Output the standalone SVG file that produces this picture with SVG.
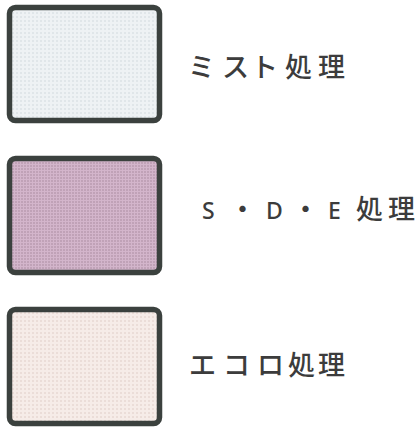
<svg xmlns="http://www.w3.org/2000/svg" width="419" height="427" viewBox="0 0 419 427">
<style>
.box{stroke:#3b413e;stroke-width:5.5}
.lbl{font-family:"Noto Sans CJK JP","Noto Sans",sans-serif;font-size:27px;font-weight:500;fill:#3c3c3c}
.lat{font-family:"Noto Sans","Liberation Sans",sans-serif;font-size:23px;font-weight:500;fill:#3c3c3c}
</style>
<defs>
<pattern id="dotsA" width="4" height="4" patternUnits="userSpaceOnUse">
<rect width="4" height="4" fill="#eef2f4"/>
<circle cx="1" cy="1" r="0.7" fill="#c9d2d6"/>
</pattern>
<pattern id="dotsB" width="3" height="3" patternUnits="userSpaceOnUse">
<rect width="3" height="3" fill="#d3b5cb"/>
<circle cx="1" cy="1" r="0.8" fill="#a9899f"/>
</pattern>
<pattern id="dotsC" width="4" height="4" patternUnits="userSpaceOnUse">
<rect width="4" height="4" fill="#f6ece8"/>
<circle cx="1" cy="1" r="0.7" fill="#d9c3bd"/>
</pattern>
</defs>
<rect width="419" height="427" fill="#ffffff"/>
<g id="mist">
<rect class="box" x="9.5" y="7.5" width="150" height="113" rx="6" fill="url(#dotsA)"/>
<text class="lbl" x="188 222 251 285 318" y="77">ミスト処理</text>
</g>
<g id="sde">
<rect class="box" x="9.5" y="158.5" width="150" height="114" rx="6" fill="url(#dotsB)"/>
<text y="219"><tspan class="lat" x="202">S</tspan><tspan class="lbl" x="229">・</tspan><tspan class="lat" x="266">D</tspan><tspan class="lbl" x="292">・</tspan><tspan class="lat" x="328">E</tspan><tspan class="lbl" x="356 388">処理</tspan></text>
</g>
<g id="ecolo">
<rect class="box" x="9.5" y="309.5" width="150" height="114" rx="6" fill="url(#dotsC)"/>
<text class="lbl" x="189 223 257 288 318" y="375">エコロ処理</text>
</g>
<g id="connectors"></g>
</svg>
